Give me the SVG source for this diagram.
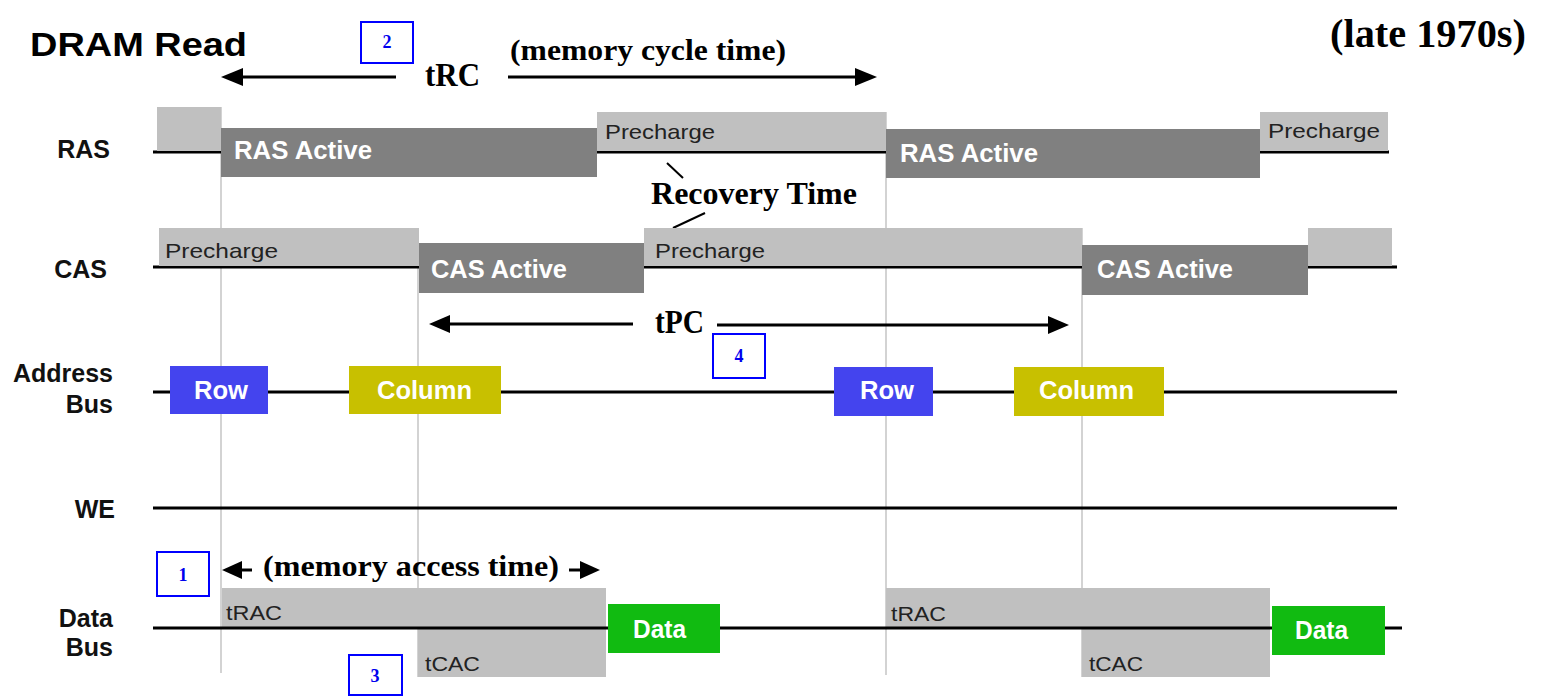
<svg xmlns="http://www.w3.org/2000/svg" width="1545" height="696" viewBox="0 0 1545 696">
<style>
.sig{stroke:#000;stroke-width:3.2;fill:none}
.guide{stroke:#c4c4c4;stroke-width:1.5;fill:none}
.lt{fill:#c0c0c0}
.dk{fill:#808080}
.row{fill:#4444ee}
.col{fill:#c8c000}
.dat{fill:#11bb11}
.lbl{font-family:"Liberation Sans",Arial,sans-serif;font-weight:bold;font-size:25px;fill:#111;text-anchor:end}
.wt{font-family:"Liberation Sans",Arial,sans-serif;font-weight:bold;font-size:25px;fill:#fff}
.gt{font-family:"Liberation Sans",Arial,sans-serif;font-size:21px;fill:#222}
.ser{font-family:"Liberation Serif","Times New Roman",serif;font-weight:bold;fill:#000}
.nb{fill:#fff;stroke:#0000ff;stroke-width:2}
.nt{font-family:"Liberation Serif","Times New Roman",serif;font-weight:bold;font-size:18px;fill:#0000ee;text-anchor:middle}
.arr{stroke:#000;stroke-width:3;fill:none}
.ah{fill:#000}
</style>
<rect width="1545" height="696" fill="#fff"/>

<g id="title">
<text x="30" y="56" class="ser" style="font-family:'Liberation Sans',Arial,sans-serif;font-size:34px" textLength="217" lengthAdjust="spacingAndGlyphs">DRAM Read</text>
<text x="1330" y="47" class="ser" font-size="40" textLength="196" lengthAdjust="spacingAndGlyphs">(late 1970s)</text>
</g>

<g id="guides">
<line class="guide" x1="221" y1="107" x2="221" y2="673"/>
<line class="guide" x1="418" y1="228" x2="418" y2="677"/>
<line class="guide" x1="886" y1="112" x2="886" y2="675"/>
<line class="guide" x1="1082" y1="228" x2="1082" y2="677"/>
</g>

<g id="ras">
<text x="110" y="158" class="lbl">RAS</text>
<line class="sig" x1="153" y1="152" x2="1389" y2="152"/>
<rect class="lt" x="157" y="107" width="64" height="44"/>
<rect class="dk" x="221" y="128" width="376" height="49"/>
<rect class="lt" x="597" y="112" width="289" height="39"/>
<rect class="dk" x="886" y="129" width="374" height="49"/>
<rect class="lt" x="1260" y="112" width="128" height="39"/>
<text x="234" y="159" class="wt" textLength="138" lengthAdjust="spacingAndGlyphs">RAS Active</text>
<text x="605" y="139" class="gt" textLength="110" lengthAdjust="spacingAndGlyphs">Precharge</text>
<text x="900" y="162" class="wt" textLength="138" lengthAdjust="spacingAndGlyphs">RAS Active</text>
<text x="1268" y="138" class="gt" textLength="112" lengthAdjust="spacingAndGlyphs">Precharge</text>
</g>

<g id="recovery">
<line x1="667" y1="163" x2="683" y2="178" stroke="#000" stroke-width="2"/>
<text x="651" y="204" class="ser" font-size="32" textLength="206" lengthAdjust="spacingAndGlyphs">Recovery Time</text>
<line x1="673" y1="228" x2="705" y2="213" stroke="#000" stroke-width="2"/>
</g>

<g id="cas">
<text x="107" y="278" class="lbl">CAS</text>
<line class="sig" x1="153" y1="267" x2="1397" y2="267"/>
<rect class="lt" x="159" y="228" width="260" height="38"/>
<rect class="dk" x="419" y="243" width="225" height="50"/>
<rect class="lt" x="644" y="228" width="438" height="38"/>
<rect class="dk" x="1082" y="245" width="226" height="50"/>
<rect class="lt" x="1308" y="228" width="84" height="38"/>
<text x="165" y="258" class="gt" textLength="113" lengthAdjust="spacingAndGlyphs">Precharge</text>
<text x="431" y="278" class="wt" textLength="136" lengthAdjust="spacingAndGlyphs">CAS Active</text>
<text x="655" y="258" class="gt" textLength="110" lengthAdjust="spacingAndGlyphs">Precharge</text>
<text x="1097" y="278" class="wt" textLength="136" lengthAdjust="spacingAndGlyphs">CAS Active</text>
</g>

<g id="address">
<text x="113" y="382" class="lbl">Address</text>
<text x="113" y="413" class="lbl">Bus</text>
<line class="sig" x1="153" y1="392" x2="1397" y2="392"/>
<rect class="row" x="170" y="366" width="98" height="48"/>
<rect class="col" x="349" y="366" width="152" height="48"/>
<rect class="row" x="834" y="367" width="99" height="49"/>
<rect class="col" x="1014" y="367" width="150" height="49"/>
<text x="194" y="399" class="wt" textLength="54" lengthAdjust="spacingAndGlyphs">Row</text>
<text x="377" y="399" class="wt" fill="#ffffe8" textLength="95" lengthAdjust="spacingAndGlyphs">Column</text>
<text x="860" y="399" class="wt" textLength="54" lengthAdjust="spacingAndGlyphs">Row</text>
<text x="1039" y="399" class="wt" textLength="95" lengthAdjust="spacingAndGlyphs">Column</text>
</g>

<g id="we">
<text x="115" y="518" class="lbl">WE</text>
<line class="sig" x1="153" y1="508" x2="1397" y2="508"/>
</g>

<g id="databus">
<text x="113" y="627" class="lbl">Data</text>
<text x="113" y="656" class="lbl">Bus</text>
<polygon class="lt" points="222,588 606,588 606,677 418,677 418,628 222,628"/>
<polygon class="lt" points="886,588 1270,588 1270,677 1082,677 1082,628 886,628"/>
<line class="sig" x1="153" y1="628" x2="1402" y2="628"/>
<rect class="dat" x="608" y="604" width="112" height="49"/>
<rect class="dat" x="1272" y="606" width="113" height="49"/>
<text x="226" y="620" class="gt" textLength="56" lengthAdjust="spacingAndGlyphs">tRAC</text>
<text x="425" y="671" class="gt" textLength="55" lengthAdjust="spacingAndGlyphs">tCAC</text>
<text x="891" y="621" class="gt" textLength="55" lengthAdjust="spacingAndGlyphs">tRAC</text>
<text x="1089" y="671" class="gt" textLength="54" lengthAdjust="spacingAndGlyphs">tCAC</text>
<text x="633" y="638" class="wt" textLength="53" lengthAdjust="spacingAndGlyphs">Data</text>
<text x="1295" y="639" class="wt" textLength="53" lengthAdjust="spacingAndGlyphs">Data</text>
</g>

<g id="connectors">
<line class="arr" x1="240" y1="77" x2="396" y2="77"/>
<polygon class="ah" points="221,77 243,68 243,86"/>
<text x="425" y="86" class="ser" font-size="33" textLength="55" lengthAdjust="spacingAndGlyphs">tRC</text>
<text x="510" y="60" class="ser" font-size="29" textLength="276" lengthAdjust="spacingAndGlyphs">(memory cycle time)</text>
<line class="arr" x1="508" y1="77" x2="858" y2="77"/>
<polygon class="ah" points="877,77 855,68 855,86"/>

<line class="arr" x1="446" y1="324" x2="633" y2="324"/>
<polygon class="ah" points="429,324 450,315 450,333"/>
<text x="655" y="333" class="ser" font-size="33" textLength="49" lengthAdjust="spacingAndGlyphs">tPC</text>
<line class="arr" x1="717" y1="325" x2="1052" y2="325"/>
<polygon class="ah" points="1069,325 1048,316 1048,334"/>

<line class="arr" x1="238" y1="570" x2="252" y2="570"/>
<polygon class="ah" points="222,570 242,561 242,579"/>
<text x="263" y="576" class="ser" font-size="30" textLength="296" lengthAdjust="spacingAndGlyphs">(memory access time)</text>
<line class="arr" x1="569" y1="570" x2="584" y2="570"/>
<polygon class="ah" points="600,570 580,561 580,579"/>
</g>

<g id="box1"><rect class="nb" x="157" y="552" width="52" height="44"/><text x="183" y="581" class="nt">1</text></g>
<g id="box2"><rect class="nb" x="361" y="22" width="52" height="41"/><text x="387" y="48" class="nt">2</text></g>
<g id="box3"><rect class="nb" x="349" y="655" width="53" height="40"/><text x="375" y="682" class="nt">3</text></g>
<g id="box4"><rect class="nb" x="713" y="334" width="52" height="44"/><text x="739" y="362" class="nt">4</text></g>
</svg>
